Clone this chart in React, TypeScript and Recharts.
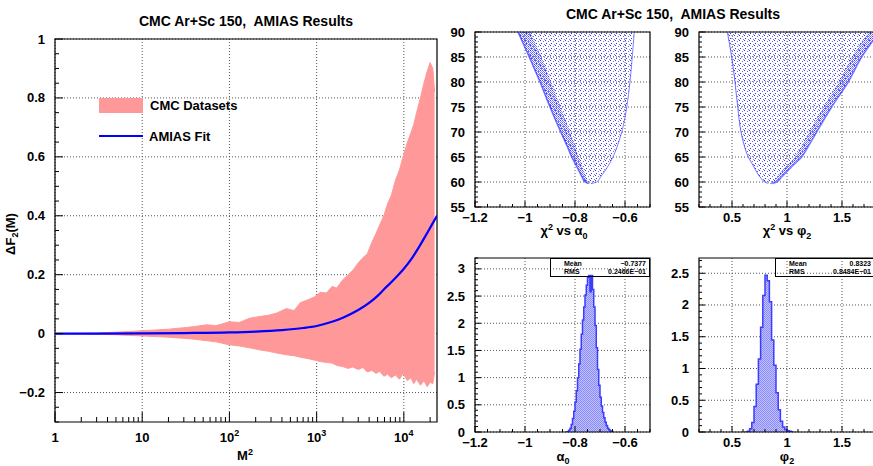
import React from 'react';
import { ComposedChart, Area, Line, XAxis, YAxis, CartesianGrid, ReferenceArea, Legend } from 'recharts';

const FONT = '"Liberation Sans", Arial, Helvetica, sans-serif';
const PINK = '#ff9999';
const FIT_BLUE = '#0000ff';
const DOT_BLUE = '#3333ff';
const HIST_LINE = '#3c3cff';
const GRID = { stroke: '#555', strokeDasharray: '1 2' };

// ---- left panel: envelope of the CMC datasets and the AMIAS fit
const bandM2 = [1, 1.5, 2, 3, 5, 7, 10, 14, 20, 30, 40, 55, 70, 100, 130, 170, 220, 280, 350, 450, 550, 650, 800, 950, 1100, 1300, 1500, 1700, 2000, 2300, 2600, 3000, 3400, 3800, 4300, 4800, 5300, 5900, 6500, 7200, 8000, 8900, 9800, 11000, 12000, 13000, 14000, 15500, 17000, 18500, 20000, 21500, 22500];
const bandHigh = [0, 0.0005, 0.001, 0.002, 0.005, 0.007, 0.01, 0.012, 0.015, 0.02, 0.024, 0.03, 0.027, 0.04, 0.038, 0.052, 0.058, 0.062, 0.07, 0.085, 0.078, 0.105, 0.115, 0.125, 0.14, 0.138, 0.16, 0.155, 0.183, 0.2, 0.215, 0.24, 0.258, 0.27, 0.31, 0.34, 0.37, 0.4, 0.44, 0.47, 0.52, 0.555, 0.6, 0.65, 0.68, 0.71, 0.75, 0.8, 0.85, 0.89, 0.92, 0.9, 0.82];
const bandLow = [0, -0.0005, -0.001, -0.002, -0.004, -0.006, -0.008, -0.01, -0.012, -0.016, -0.019, -0.024, -0.028, -0.038, -0.042, -0.048, -0.055, -0.06, -0.066, -0.072, -0.075, -0.08, -0.085, -0.09, -0.095, -0.098, -0.1, -0.108, -0.112, -0.118, -0.113, -0.122, -0.115, -0.13, -0.125, -0.135, -0.128, -0.145, -0.138, -0.15, -0.14, -0.155, -0.135, -0.16, -0.15, -0.17, -0.155, -0.175, -0.16, -0.18, -0.165, -0.17, -0.13];

const fitM2 = [1, 3, 10, 30, 100, 200, 400, 700, 1000, 1500, 2000, 3000, 4000, 5000, 6000, 7500, 9000, 10000, 12000, 15000, 18000, 21000, 24000];
const fitValue = [0, 0.0003, 0.001, 0.002, 0.004, 0.007, 0.012, 0.019, 0.026, 0.04, 0.054, 0.08, 0.104, 0.128, 0.152, 0.18, 0.205, 0.22, 0.25, 0.295, 0.335, 0.37, 0.4];

const logMajors = [1, 10, 100, 1000, 10000];
const logLabels: React.ReactNode[] = [
  '1',
  '10',
  <>10<tspan dy={-6} fontSize={9}>2</tspan></>,
  <>10<tspan dy={-6} fontSize={9}>3</tspan></>,
  <>10<tspan dy={-6} fontSize={9}>4</tspan></>,
];
const dfMajors = [-0.2, 0, 0.2, 0.4, 0.6, 0.8, 1];
const dfLabels = ['\u22120.2', '0', '0.2', '0.4', '0.6', '0.8', '1'];

// ---- chi2 scans: outline of the scatter clouds (left / right edge per chi2 level)
const chiLevels = [59.7, 60, 61, 62, 63, 65, 67, 70, 75, 80, 85, 90];
const alphaLeft = [-0.745, -0.76, -0.772, -0.782, -0.792, -0.813, -0.83, -0.857, -0.9, -0.94, -0.983, -1.028];
const alphaRight = [-0.735, -0.713, -0.698, -0.683, -0.67, -0.648, -0.632, -0.613, -0.593, -0.58, -0.571, -0.563];
const alphaDenseEdge = [-0.74, -0.748, -0.756, -0.763, -0.77, -0.785, -0.799, -0.82, -0.858, -0.895, -0.935, -0.978];
const phiLeft = [0.83, 0.8, 0.755, 0.724, 0.7, 0.648, 0.615, 0.582, 0.552, 0.527, 0.497, 0.458];
const phiRight = [0.86, 0.906, 0.95, 0.997, 1.04, 1.133, 1.19, 1.27, 1.406, 1.557, 1.679, 1.84];
const phiDenseEdge = [0.845, 0.875, 0.91, 0.945, 0.985, 1.07, 1.125, 1.2, 1.33, 1.47, 1.59, 1.74];

const chiMajors = [55, 60, 65, 70, 75, 80, 85, 90];
const chiLabels = ['55', '60', '65', '70', '75', '80', '85', '90'];

// ---- posterior histograms
const alphaEdges = [-0.835, -0.83, -0.825, -0.82, -0.815, -0.81, -0.805, -0.8, -0.795, -0.79, -0.785, -0.78, -0.775, -0.77, -0.765, -0.76, -0.755, -0.75, -0.745, -0.74, -0.735, -0.73, -0.725, -0.72, -0.715, -0.71, -0.705, -0.7, -0.695, -0.69, -0.685, -0.68, -0.675, -0.67, -0.665, -0.66, -0.655, -0.65];
const alphaHeights = [0, 0.01, 0.03, 0.07, 0.14, 0.25, 0.38, 0.55, 0.76, 1.0, 1.25, 1.52, 1.8, 2.06, 2.3, 2.52, 2.7, 2.84, 2.88, 2.58, 2.88, 2.62, 2.3, 1.96, 1.55, 1.15, 0.86, 0.64, 0.48, 0.36, 0.26, 0.18, 0.12, 0.07, 0.04, 0.02, 0.01, 0];
const phiEdges = [0.62, 0.64, 0.66, 0.68, 0.7, 0.72, 0.74, 0.76, 0.78, 0.8, 0.82, 0.84, 0.86, 0.88, 0.9, 0.92, 0.94, 0.96, 0.98, 1.0, 1.02, 1.04, 1.06];
const phiHeights = [0, 0.01, 0.05, 0.15, 0.4, 0.75, 1.15, 1.65, 2.15, 2.47, 2.38, 2.05, 1.45, 1.05, 0.62, 0.35, 0.17, 0.08, 0.04, 0.02, 0.01, 0, 0];

const alphaMajors = [-1.2, -1, -0.8, -0.6];
const alphaLabels = ['\u22121.2', '\u22121', '\u22120.8', '\u22120.6'];
const phiMajors = [0.5, 1, 1.5];
const phiLabels = ['0.5', '1', '1.5'];
const histAMajors = [0, 0.5, 1, 1.5, 2, 2.5, 3];
const histPMajors = [0, 0.5, 1, 1.5, 2, 2.5];
const histLabels = ['0', '0.5', '1', '1.5', '2', '2.5', '3'];

// minor tick helpers
const steps = (a: number, b: number, d: number) => {
  const out: number[] = [];
  const n = Math.round((b - a) / d);
  for (let i = 0; i <= n; i++) out.push(+(a + i * d).toFixed(4));
  return out;
};
const logTicks = (() => {
  const out: number[] = [];
  for (const dec of [1, 10, 100, 1000, 10000]) for (let k = 1; k <= 9; k++) if (dec * k <= 24000) out.push(dec * k);
  return out;
})();

const isMajor = (majors: number[], v: number) =>
  majors.findIndex((m) => Math.abs(m - v) < 1e-6 * Math.max(1, Math.abs(m)));

function xTick(majors: number[], labels: React.ReactNode[], dy: number, majorLen: number, minorLen: number) {
  return (p: any) => {
    const i = isMajor(majors, Number(p.payload?.value));
    return (
      <g>
        <line x1={p.x} x2={p.x} y1={p.y} y2={p.y - (i >= 0 ? majorLen : minorLen)} stroke="#000" />
        {i >= 0 && (
          <text x={p.x} y={p.y + dy} textAnchor="middle" fontFamily={FONT} fontWeight="bold" fontSize={13} fill="#000">
            {labels[i]}
          </text>
        )}
      </g>
    );
  };
}

function yTick(majors: number[], labels: React.ReactNode[], gap: number, majorLen: number, minorLen: number) {
  return (p: any) => {
    const i = isMajor(majors, Number(p.payload?.value));
    return (
      <g>
        <line x1={p.x} x2={p.x + (i >= 0 ? majorLen : minorLen)} y1={p.y} y2={p.y} stroke="#000" />
        {i >= 0 && (
          <text x={p.x - gap} y={p.y + 4.5} textAnchor="end" fontFamily={FONT} fontWeight="bold" fontSize={13} fill="#000">
            {labels[i]}
          </text>
        )}
      </g>
    );
  };
}

const axisBase = { tickLine: false, axisLine: false, tickSize: 0, tickMargin: 0, interval: 0 as const, allowDataOverflow: true };

function Txt({ x, y, size = 13, rotate = 0, children }: any) {
  return (
    <div
      style={{
        position: 'absolute', left: x, top: y, transform: `translate(-50%, -50%) rotate(${rotate}deg)`,
        fontFamily: FONT, fontWeight: 'bold', fontSize: size, whiteSpace: 'pre', lineHeight: 1, color: '#000',
      }}
    >
      {children}
    </div>
  );
}

const sub = { fontSize: 9, verticalAlign: 'sub' } as const;
const sup = { fontSize: 9, verticalAlign: 'super' } as const;

function DatasetPanel() {
  const band = bandM2.map((m2, i) => ({ m2, band: [bandLow[i], bandHigh[i]] }));
  const fit = fitM2.map((m2, i) => ({ m2, fit: fitValue[i] }));
  return (
    <ComposedChart width={445} height={466} margin={{ top: 39, right: 8, bottom: 0, left: 10 }}>
      <CartesianGrid {...GRID} verticalValues={logMajors} horizontalValues={dfMajors} />
      <XAxis dataKey="m2" type="number" scale="log" domain={[1, 24000]} ticks={logTicks} height={44}
        {...axisBase} tick={xTick(logMajors, logLabels, 20, 10, 5)} />
      <YAxis type="number" domain={[-0.3, 1]} ticks={steps(-0.3, 1, 0.05)} width={45}
        {...axisBase} tick={yTick(dfMajors, dfLabels, 10, 8, 4)} />
      <Area data={band} dataKey="band" type="linear" fill={PINK} fillOpacity={1} stroke={PINK} strokeWidth={1} isAnimationActive={false} />
      <Line data={fit} dataKey="fit" type="monotone" stroke={FIT_BLUE} strokeWidth={2.2} dot={false} isAnimationActive={false} />
      <ReferenceArea x1={1} x2={24000} y1={-0.3} y2={1} fill="none" stroke="#000" strokeWidth={1.2} ifOverflow="visible" />
      <Legend
        layout="vertical" align="center" verticalAlign="middle"
        wrapperStyle={{ left: 99, top: 97, width: 200, height: 50 }}
        content={() => (
          <div style={{ fontFamily: FONT, fontWeight: 'bold', fontSize: 13, color: '#000' }}>
            <div style={{ display: 'flex', alignItems: 'center', height: 16 }}>
              <span style={{ display: 'inline-block', width: 44, height: 15, background: PINK }} />
              <span style={{ marginLeft: 7 }}>CMC Datasets</span>
            </div>
            <div style={{ display: 'flex', alignItems: 'center', height: 16, marginTop: 15 }}>
              <span style={{ display: 'inline-block', width: 44, height: 2, background: FIT_BLUE }} />
              <span style={{ marginLeft: 6 }}>AMIAS Fit</span>
            </div>
          </div>
        )}
      />
    </ComposedChart>
  );
}

function ChiPanel({ id, left, right, dense, xDomain, xTicks, xMajors, xLabels, denseOnLeft, rightMargin }: any) {
  const rows = chiLevels.map((chi, i) => ({
    chi,
    range: [left[i], right[i]],
    dense: denseOnLeft ? [left[i], dense[i]] : [dense[i], right[i]],
    l: left[i],
    r: right[i],
  }));
  return (
    <ComposedChart layout="vertical" width={215} height={245} data={rows} margin={{ top: 32, right: rightMargin, bottom: 0, left: 0 }}>
      <defs>
        <pattern id={`${id}-sparse`} width={5} height={5} patternUnits="userSpaceOnUse">
          <rect x={0} y={0} width={1} height={1} fill={DOT_BLUE} />
          <rect x={3} y={1} width={1} height={1} fill="#6a6aff" />
          <rect x={1} y={3} width={1} height={1} fill={DOT_BLUE} />
          <rect x={4} y={4} width={1} height={1} fill="#7a7aff" />
        </pattern>
        <pattern id={`${id}-dense`} width={2} height={2} patternUnits="userSpaceOnUse">
          <rect x={0} y={0} width={1} height={1} fill={DOT_BLUE} />
          <rect x={1} y={1} width={1} height={1} fill="#6a6aff" />
        </pattern>
      </defs>
      <CartesianGrid {...GRID} verticalValues={xMajors} horizontalValues={chiMajors} />
      <XAxis type="number" domain={xDomain} ticks={xTicks} height={38} {...axisBase} tick={xTick(xMajors, xLabels, 15, 6, 3)} />
      <YAxis type="number" dataKey="chi" domain={[55, 90]} ticks={steps(55, 90, 1)} width={35} reversed
        {...axisBase} tick={yTick(chiMajors, chiLabels, 10, 6, 3)} />
      <Area dataKey="range" type="monotone" fill={`url(#${id}-sparse)`} fillOpacity={1} stroke="none" isAnimationActive={false} />
      <Area dataKey="dense" type="monotone" fill={`url(#${id}-dense)`} fillOpacity={0.75} stroke="none" isAnimationActive={false} />
      <Line dataKey="l" type="monotone" stroke={DOT_BLUE} strokeWidth={denseOnLeft ? 1.5 : 1} strokeOpacity={0.7} dot={false} isAnimationActive={false} />
      <Line dataKey="r" type="monotone" stroke={DOT_BLUE} strokeWidth={denseOnLeft ? 1 : 1.5} strokeOpacity={0.6} dot={false} isAnimationActive={false} />
      <ReferenceArea x1={xDomain[0]} x2={xDomain[1]} y1={55} y2={90} fill="none" stroke="#000" strokeWidth={1.2} ifOverflow="visible" />
    </ComposedChart>
  );
}

function HistPanel({ id, edges, heights, xDomain, xTicks, xMajors, xLabels, yMax, yMajors, rightMargin }: any) {
  const rows = edges.map((x: number, i: number) => ({ x, h: heights[i] }));
  return (
    <ComposedChart width={215} height={240} data={rows} margin={{ top: 32, right: rightMargin, bottom: 0, left: 0 }}>
      <defs>
        <pattern id={`${id}-hatch`} width={2} height={2} patternUnits="userSpaceOnUse">
          <rect x={0} y={0} width={2} height={2} fill="#c2c2ff" />
          <rect x={0} y={0} width={1} height={1} fill="#8a8aff" />
          <rect x={1} y={1} width={1} height={1} fill="#8a8aff" />
        </pattern>
      </defs>
      <CartesianGrid {...GRID} verticalValues={xMajors} horizontalValues={yMajors} />
      <XAxis dataKey="x" type="number" domain={xDomain} ticks={xTicks} height={34} {...axisBase} tick={xTick(xMajors, xLabels, 15, 6, 3)} />
      <YAxis type="number" domain={[0, yMax]} ticks={steps(0, Math.floor(yMax * 10) / 10, 0.1)} width={35}
        {...axisBase} tick={yTick(yMajors, histLabels, 10, 6, 3)} />
      <Area dataKey="h" type="stepAfter" fill={`url(#${id}-hatch)`} fillOpacity={1} stroke={HIST_LINE} strokeWidth={1.5} isAnimationActive={false} />
      <ReferenceArea x1={xDomain[0]} x2={xDomain[1]} y1={0} y2={yMax} fill="none" stroke="#000" strokeWidth={1.2} ifOverflow="visible" />
    </ComposedChart>
  );
}

function StatBox({ left, mean, rms }: { left: number; mean: string; rms: string }) {
  const row = { display: 'flex', justifyContent: 'space-between', height: 8 } as const;
  return (
    <div
      style={{
        position: 'absolute', left, top: 258, width: 100, height: 19, boxSizing: 'border-box',
        border: '1.5px solid #000', padding: '1px 3px 0 13px', fontFamily: FONT, fontWeight: 'bold',
        fontSize: 7, lineHeight: '8px', color: '#000',
      }}
    >
      <div style={row}><span>Mean</span><span>{mean}</span></div>
      <div style={row}><span>RMS</span><span>{rms}</span></div>
    </div>
  );
}

const at = (left: number, top: number) => ({ position: 'absolute' as const, left, top });

export default function App() {
  const alphaTicks = steps(-1.2, -0.5, 0.05);
  const phiTicks = steps(0.2, 1.8, 0.1);
  return (
    <div style={{ position: 'fixed', left: 0, top: 0, width: 873, height: 466, overflow: 'hidden', background: '#fff' }}>
      <div style={at(0, 0)}>
        <DatasetPanel />
      </div>
      <div style={at(440, 0)}>
        <ChiPanel id="ca" left={alphaLeft} right={alphaRight} dense={alphaDenseEdge} denseOnLeft
          xDomain={[-1.2, -0.5]} xTicks={alphaTicks} xMajors={alphaMajors} xLabels={alphaLabels} rightMargin={5} />
      </div>
      <div style={at(664, 0)}>
        <ChiPanel id="cp" left={phiLeft} right={phiRight} dense={phiDenseEdge} denseOnLeft={false}
          xDomain={[0.2, 1.8]} xTicks={phiTicks} xMajors={phiMajors} xLabels={phiLabels} rightMargin={4} />
      </div>
      <div style={at(440, 226)}>
        <HistPanel id="ha" edges={alphaEdges} heights={alphaHeights} xDomain={[-1.2, -0.5]} xTicks={alphaTicks}
          xMajors={alphaMajors} xLabels={alphaLabels} yMax={3.2} yMajors={histAMajors} rightMargin={5} />
      </div>
      <div style={at(664, 226)}>
        <HistPanel id="hp" edges={phiEdges} heights={phiHeights} xDomain={[0.2, 1.8]} xTicks={phiTicks}
          xMajors={phiMajors} xLabels={phiLabels} yMax={2.74} yMajors={histPMajors} rightMargin={4} />
      </div>

      <StatBox left={550} mean={'\u22120.7377'} rms={'0.2466E\u221201'} />
      <StatBox left={775} mean={'0.8323'} rms={'0.8484E\u221201'} />

      <Txt x={246} y={21} size={14}>CMC Ar+Sc 150,  AMIAS Results</Txt>
      <Txt x={673} y={14} size={14}>CMC Ar+Sc 150,  AMIAS Results</Txt>
      <Txt x={12} y={234} rotate={-90}>ΔF<span style={sub}>2</span>(M)</Txt>
      <Txt x={245} y={455}>M<span style={sup}>2</span></Txt>
      <Txt x={564} y={232}>χ<span style={sup}>2</span> vs α<span style={sub}>0</span></Txt>
      <Txt x={787} y={232}>χ<span style={sup}>2</span> vs φ<span style={sub}>2</span></Txt>
      <Txt x={563} y={458}>α<span style={sub}>0</span></Txt>
      <Txt x={787} y={458}>φ<span style={sub}>2</span></Txt>
    </div>
  );
}
